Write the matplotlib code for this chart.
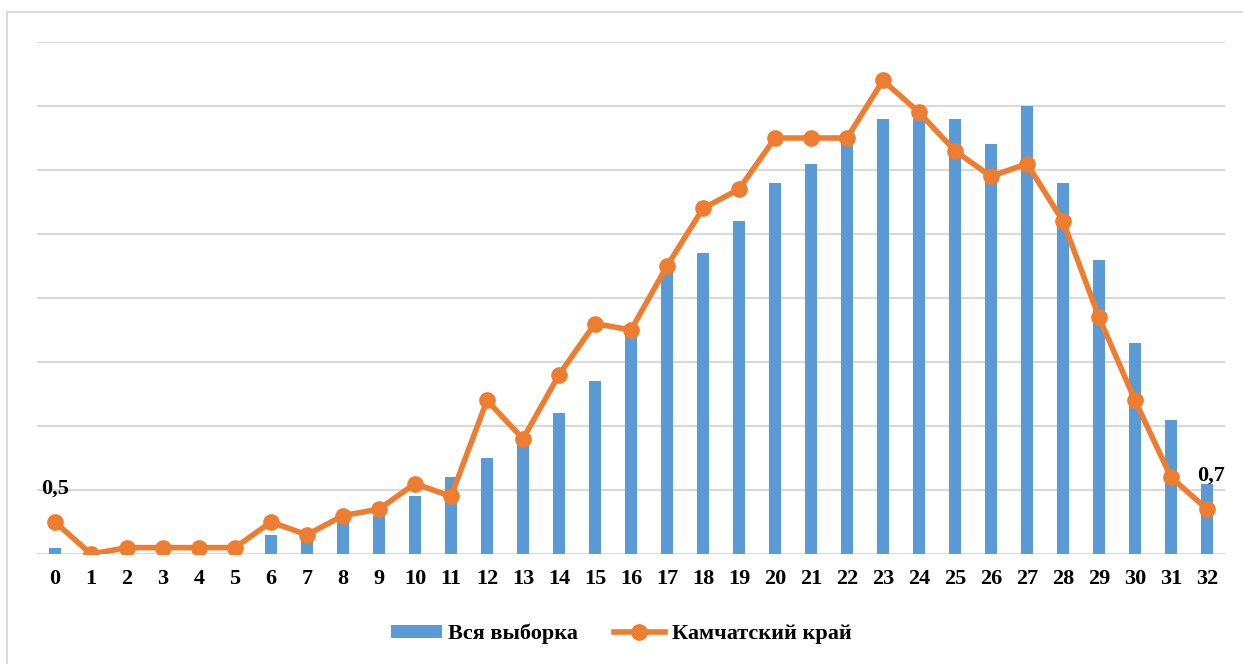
import matplotlib.pyplot as plt
import matplotlib.patches as patches
import numpy as np

categories = [str(i) for i in range(33)]
all_sample = [0.1, 0.0, 0.0, 0.0, 0.0, 0.0, 0.3, 0.3, 0.55, 0.6,
              0.9, 1.2, 1.5, 1.7, 2.2, 2.7, 3.45, 4.4, 4.7, 5.2,
              5.8, 6.1, 6.4, 6.8, 6.8, 6.8, 6.4, 7.0, 5.8, 4.6,
              3.3, 2.1, 1.1]
kamchatka = [0.5, 0.0, 0.1, 0.1, 0.1, 0.1, 0.5, 0.3, 0.6, 0.7,
             1.1, 0.9, 2.4, 1.8, 2.8, 3.6, 3.5, 4.5, 5.4, 5.7,
             6.5, 6.5, 6.5, 7.4, 6.9, 6.3, 5.9, 6.1, 5.2, 3.7,
             2.4, 1.2, 0.7]
label_idx = [0, 32]

blue = "#5B9BD5"
orange = "#ED7D31"
grid_c = "#D9D9D9"
font = ["Liberation Serif", "DejaVu Serif"]

fig = plt.figure(figsize=(12.43, 6.64), dpi=100)
# chart border (light gray)
fig.add_artist(patches.Rectangle((7 / 1243, -0.1), 1.2, 1 - 12 / 664 + 0.1,
                                 transform=fig.transFigure, fill=False,
                                 edgecolor=grid_c, linewidth=1.5))

ax = fig.add_axes([37 / 1243, 1 - 554 / 664, 1188 / 1243, 512 / 664])
x = np.arange(len(categories))

bars = ax.bar(x, all_sample, width=0.32, color=blue, label="Вся выборка", zorder=2)
line, = ax.plot(x, kamchatka, color=orange, linewidth=4, marker="o", markersize=11,
                label="Камчатский край", zorder=3)

for i in label_idx:
    v = kamchatka[i]
    s = f"{v:.1f}".replace(".", ",")
    dx = 0.12 if i == label_idx[-1] else 0.0
    ax.annotate(s, (x[i] + dx, v), xytext=(0, 17), textcoords="offset points",
                ha="center", va="bottom", fontsize=16, fontweight="bold",
                family=font)

ax.set_xlim(-0.5, len(categories) - 0.5)
ax.set_ylim(0, 8)
ax.set_yticks(np.arange(0, 9, 1))
ax.yaxis.grid(True, color=grid_c, linewidth=1.5, zorder=0)
ax.set_axisbelow(True)
ax.tick_params(axis="y", left=False, labelleft=False)
ax.tick_params(axis="x", length=0, pad=11)
ax.set_xticks(x)
ax.set_xticklabels(categories, fontsize=16, fontweight="bold", family=font)
for sp in ax.spines.values():
    sp.set_visible(False)

leg = fig.legend([bars, line], ["Вся выборка", "Камчатский край"],
                 loc="center", bbox_to_anchor=(621 / 1243, 1 - 634 / 664),
                 ncol=2, frameon=False, handlelength=2.3, handleheight=0.55,
                 handletextpad=0.3, columnspacing=1.6,
                 prop={"family": font, "weight": "bold", "size": 16})

fig.savefig("out.png", dpi=100)
